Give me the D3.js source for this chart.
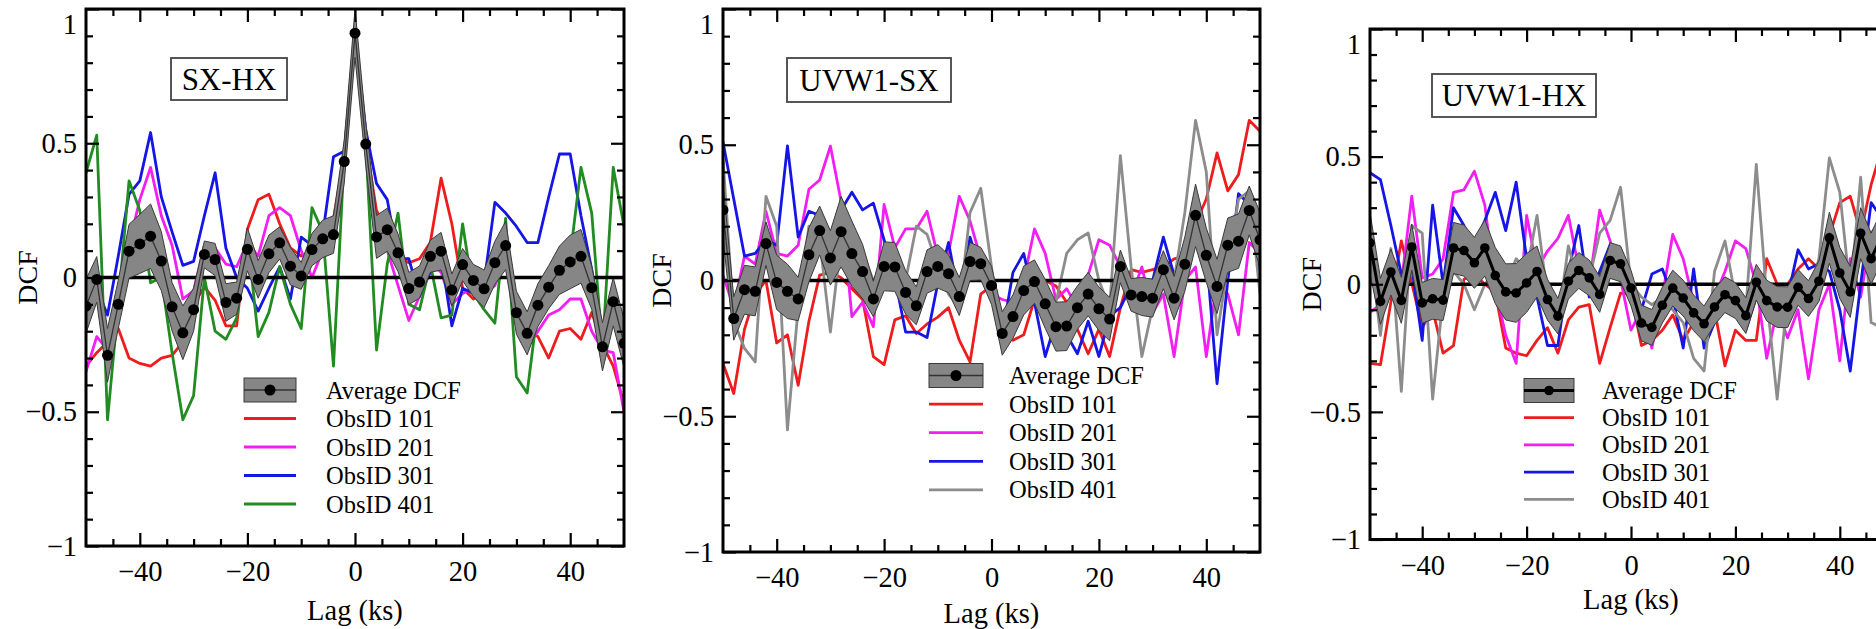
<!DOCTYPE html>
<html>
<head>
<meta charset="utf-8">
<script src="https://cdn.jsdelivr.net/npm/d3@7/dist/d3.min.js"></script>
<style>
  html, body { margin: 0; padding: 0; background: #fff; }
  svg { display: block; }
  svg text { font-family: "Liberation Serif", "DejaVu Serif", "Times New Roman", serif !important; fill: #000; }
</style>
</head>
<body>
<div id="chart"></div>
<script>
// lag grid (ks)
const lags = [-50,-48,-46,-44,-42,-40,-38,-36,-34,-32,-30,-28,-26,-24,-22,-20,-18,-16,-14,-12,-10,-8,-6,-4,-2,
  0,2,4,6,8,10,12,14,16,18,20,22,24,26,28,30,32,34,36,38,40,42,44,46,48,50];

const xMajor = [-40, -20, 0, 20, 40];
const xMinor = [-45,-35,-30,-25,-15,-10,-5,5,10,15,25,30,35,45];
const yMajor = [-1, -0.5, 0, 0.5, 1];
const yMinor = [-0.9,-0.8,-0.7,-0.6,-0.4,-0.3,-0.2,-0.1,0.1,0.2,0.3,0.4,0.6,0.7,0.8,0.9];

const legendNames = ["Average DCF", "ObsID 101", "ObsID 201", "ObsID 301", "ObsID 401"];

// ---- SX-HX ----
const sxhxAvg = [-0.107,-0.007,-0.29,-0.10,0.098,0.125,0.154,0.061,-0.109,-0.206,-0.12,0.086,0.067,-0.093,-0.077,0.105,-0.007,0.088,0.129,0.042,0.006,0.104,0.144,0.16,0.432,
  0.91,0.497,0.151,0.178,0.092,-0.041,-0.017,0.079,0.098,-0.047,0.048,-0.011,-0.042,0.055,0.119,-0.131,-0.208,-0.103,-0.036,0.027,0.058,0.079,-0.038,-0.258,-0.09,-0.245];
const sxhxErr = [0.1,0.085,0.1,0.09,0.1,0.11,0.12,0.11,0.09,0.1,0.08,0.05,0.06,0.07,0.06,0.08,0.07,0.07,0.06,0.07,0.05,0.06,0.07,0.07,0.08,
  0.09,0.08,0.08,0.08,0.07,0.06,0.06,0.06,0.07,0.06,0.06,0.06,0.07,0.08,0.09,0.08,0.08,0.08,0.08,0.09,0.1,0.1,0.08,0.09,0.09,0.09];
const sxhx101 = [-0.33,-0.28,-0.24,-0.19,-0.30,-0.32,-0.33,-0.30,-0.29,-0.24,-0.10,-0.035,-0.085,-0.18,-0.18,0.18,0.29,0.31,0.20,0.11,0.08,0.10,0.15,0.22,0.45,
  0.9,0.5,0.25,0.17,0.08,0.055,0.07,0.13,0.37,0.2,-0.04,-0.08,-0.06,0.02,0.05,-0.1,-0.2,-0.22,-0.3,-0.2,-0.19,-0.23,-0.13,-0.25,-0.33,-0.47];
const sxhx201 = [-0.35,-0.22,-0.27,-0.08,0.12,0.29,0.41,0.23,0.12,-0.08,-0.05,0.12,0.11,0.05,0.04,0.13,0.08,0.23,0.26,0.23,0.1,0.0,0.1,0.2,0.45,
  0.9,0.5,0.2,0.1,-0.03,-0.16,-0.07,0.05,0.02,-0.1,-0.06,-0.04,-0.06,-0.03,0.08,-0.14,-0.26,-0.2,-0.14,-0.12,-0.08,-0.08,-0.2,-0.27,-0.28,-0.5];
const sxhx301 = [0.0,-0.04,-0.14,0.08,0.31,0.36,0.54,0.30,0.17,0.045,0.06,0.23,0.39,0.11,0.0,-0.04,-0.125,-0.04,0.04,-0.08,0.15,0.12,0.16,0.45,0.47,
  0.9,0.55,0.35,0.29,0.07,0.07,-0.07,0.02,0.08,-0.18,-0.04,-0.06,-0.02,0.28,0.24,0.19,0.13,0.13,0.3,0.46,0.46,0.23,0.03,-0.22,-0.1,-0.2];
const sxhx401 = [0.39,0.53,-0.53,-0.1,0.36,0.25,-0.02,0.0,-0.28,-0.53,-0.44,0.0,-0.2,-0.23,-0.15,0.15,-0.22,-0.13,0.04,-0.1,-0.19,0.26,0.17,-0.33,0.45,
  0.93,0.5,-0.27,0.05,0.24,-0.1,-0.12,0.05,-0.15,-0.14,0.2,-0.06,-0.12,-0.17,0.22,-0.37,-0.43,-0.11,-0.05,0.0,0.08,0.41,0.24,-0.27,0.41,0.19];

// ---- UVW1-SX ----
const uvsxAvg = [0.26,-0.14,-0.034,-0.04,0.136,-0.007,-0.04,-0.068,0.095,0.184,0.083,0.18,0.099,0.033,-0.068,0.052,0.05,-0.044,-0.093,0.033,0.052,0.025,-0.059,0.07,0.062,
  -0.018,-0.195,-0.133,-0.037,-0.004,-0.086,-0.17,-0.168,-0.10,-0.05,-0.104,-0.142,0.052,-0.053,-0.059,-0.065,0.04,-0.065,0.06,0.24,0.093,-0.022,0.13,0.145,0.258,0.15];
const uvsxErr = [0.1,0.08,0.09,0.09,0.08,0.1,0.1,0.08,0.1,0.09,0.1,0.13,0.12,0.1,0.065,0.09,0.09,0.08,0.07,0.08,0.08,0.07,0.07,0.07,0.06,
  0.07,0.08,0.08,0.09,0.08,0.09,0.09,0.09,0.08,0.08,0.08,0.08,0.06,0.06,0.07,0.07,0.07,0.08,0.1,0.115,0.1,0.1,0.1,0.1,0.09,0.1];
const uvsx101 = [-0.306,-0.416,-0.18,-0.05,0.0,-0.23,-0.2,-0.386,-0.15,0.02,0.03,0.01,-0.03,-0.07,-0.28,-0.31,-0.145,-0.13,-0.195,-0.16,-0.135,-0.1,-0.22,-0.3,-0.05,
  -0.02,-0.2,-0.22,-0.2,-0.07,0.0,-0.02,-0.08,-0.18,-0.27,-0.18,-0.28,-0.1,0.04,0.03,0.04,0.05,0.08,0.09,0.21,0.3,0.47,0.33,0.39,0.59,0.55];
const uvsx201 = [0.02,-0.1,0.09,0.06,0.255,0.1,0.09,0.13,0.336,0.37,0.495,0.29,-0.133,-0.08,-0.17,0.28,0.12,0.19,0.19,0.255,0.09,0.1,0.31,0.22,0.08,
  -0.05,-0.07,-0.08,0.0,0.19,0.1,-0.07,-0.03,-0.1,0.02,0.15,0.13,0.05,-0.06,0.05,-0.12,-0.05,-0.28,0.0,0.05,-0.28,0.0,-0.05,-0.2,0.14,0.1];
const uvsx301 = [0.51,0.3,0.09,0.1,0.15,0.13,0.496,0.16,0.255,0.24,0.16,0.26,0.325,0.26,0.285,0.15,0.01,-0.19,-0.19,-0.21,-0.01,0.14,-0.07,0.16,0.03,
  -0.03,-0.2,0.03,0.1,-0.08,-0.28,-0.15,-0.2,-0.27,-0.15,-0.28,-0.13,-0.1,-0.02,-0.05,0.0,0.16,0.02,0.05,0.15,0.1,-0.38,0.0,0.32,0.28,0.03];
const uvsx401 = [0.45,-0.15,-0.25,-0.3,0.31,0.2,-0.55,-0.1,0.2,0.15,-0.19,0.15,0.05,0.1,0.0,0.05,0.12,0.0,0.2,0.17,0.05,-0.05,-0.1,0.25,0.34,
  0.05,-0.25,-0.2,-0.08,-0.05,-0.15,-0.08,0.1,0.15,0.175,0.0,-0.1,0.46,0.05,-0.28,-0.1,0.05,0.0,0.25,0.59,0.4,-0.2,0.05,0.3,0.33,-0.05];

// ---- UVW1-HX ----
const uvhxAvg = [0.162,-0.067,0.048,-0.063,0.146,-0.073,-0.057,-0.062,0.142,0.132,0.084,0.142,0.034,-0.03,-0.034,0.005,0.05,-0.06,-0.125,0.012,0.054,0.025,-0.04,0.093,0.08,
  -0.015,-0.152,-0.169,-0.082,-0.015,-0.054,-0.112,-0.155,-0.089,-0.041,-0.064,-0.123,0.008,-0.064,-0.089,-0.09,-0.012,-0.056,0.012,0.182,0.044,-0.03,0.2,0.1,0.188,0.12];
const uvhxErr = [0.12,0.09,0.09,0.09,0.09,0.08,0.08,0.08,0.1,0.1,0.1,0.11,0.11,0.11,0.115,0.115,0.1,0.08,0.07,0.07,0.07,0.07,0.07,0.07,0.07,
  0.07,0.07,0.07,0.07,0.07,0.07,0.07,0.07,0.07,0.07,0.07,0.07,0.07,0.08,0.08,0.08,0.07,0.07,0.08,0.1,0.1,0.1,0.1,0.1,0.1,0.1];
const uvhx101 = [-0.31,-0.315,-0.07,0.17,0.005,-0.17,-0.1,-0.27,-0.24,0.02,0.04,0.0,-0.03,-0.25,-0.27,-0.28,-0.22,-0.17,-0.27,-0.14,-0.09,-0.08,-0.31,-0.17,-0.035,
  -0.04,-0.24,-0.22,-0.18,-0.12,-0.22,-0.15,-0.18,-0.1,-0.32,-0.18,-0.22,-0.22,0.1,0.0,0.0,0.06,0.1,0.06,0.19,0.32,0.345,0.2,0.39,0.53,0.42];
const uvhx201 = [-0.11,-0.08,0.05,0.0,0.345,0.025,0.04,0.1,0.36,0.37,0.443,0.31,-0.015,-0.2,-0.31,0.27,0.06,0.13,0.18,0.27,0.06,0.0,0.29,0.17,0.02,
  -0.18,-0.1,-0.25,-0.05,0.195,0.1,-0.07,-0.15,-0.05,0.05,0.17,0.14,0.0,-0.29,-0.1,-0.21,-0.1,-0.37,-0.1,0.0,-0.3,0.1,-0.05,0.2,0.25,0.17];
const uvhx301 = [0.437,0.41,0.23,0.04,0.065,-0.22,0.31,0.0,0.3,0.23,0.15,0.25,0.36,0.21,0.40,0.1,-0.05,-0.24,-0.24,0.05,0.23,-0.05,0.05,0.155,0.1,
  -0.02,-0.1,0.04,0.06,-0.05,-0.25,0.06,-0.25,-0.15,-0.1,-0.1,-0.18,-0.05,-0.1,-0.05,-0.05,0.135,0.06,0.08,0.05,-0.1,-0.34,0.0,0.32,0.26,0.15];
const uvhx401 = [0.15,-0.2,0.14,-0.42,0.23,0.2,-0.45,-0.05,0.05,0.0,-0.1,0.0,0.05,0.0,0.1,0.05,0.27,-0.05,-0.15,0.15,0.0,0.02,0.2,0.25,0.38,
  0.0,-0.05,-0.08,-0.05,-0.1,-0.15,-0.29,-0.34,0.05,0.17,-0.05,-0.1,0.47,-0.05,-0.45,-0.05,0.05,-0.05,0.1,0.495,0.36,-0.03,0.42,-0.15,-0.17,-0.2];

const red = "#ee1c1c", magenta = "#f21ef2", blue = "#1515e6", green = "#228b22", grey = "#8c8c8c";
const serif = '"Liberation Serif", "DejaVu Serif", "Times New Roman", serif';

const panels = [
  { title: "SX-HX", left: 86, right: 624, top: 9, bottom: 546,
    avg: sxhxAvg, err: sxhxErr, series: [sxhx101, sxhx201, sxhx301, sxhx401],
    colors: [red, magenta, blue, green], avgWidth: 1.3, avgColor: "#333", dotR: 5.5,
    box: [171, 58, 116, 42], leg: { x: 244, x2: 296, tx: 326, y: 390, dy: 28.5 },
    lagY: 620, dcfX: 27 },
  { title: "UVW1-SX", left: 723, right: 1260, top: 9, bottom: 552,
    avg: uvsxAvg, err: uvsxErr, series: [uvsx101, uvsx201, uvsx301, uvsx401],
    colors: [red, magenta, blue, grey], avgWidth: 1.3, avgColor: "#333", dotR: 5.5,
    box: [787, 58, 164, 44], leg: { x: 929, x2: 983, tx: 1009, y: 375.5, dy: 28.6 },
    lagY: 623, dcfX: 661 },
  { title: "UVW1-HX", left: 1370, right: 1892, top: 29, bottom: 539.5,
    avg: uvhxAvg, err: uvhxErr, series: [uvhx101, uvhx201, uvhx301, uvhx401],
    colors: [red, magenta, blue, grey], avgWidth: 3, avgColor: "#000", dotR: 4.8,
    box: [1432, 74, 164, 43], leg: { x: 1524, x2: 1574, tx: 1602, y: 390.5, dy: 27.2 },
    lagY: 609, dcfX: 1311 }
];

const W = 1876, H = 629;
const svg = d3.select("#chart").append("svg").attr("width", W).attr("height", H)
  .style("font-family", serif);
svg.append("rect").attr("width", W).attr("height", H).attr("fill", "#fff");

const fmt = d => (d < 0 ? "\u2212" : "") + Math.abs(d);

panels.forEach((p, pi) => {
  const x = d3.scaleLinear().domain([-50, 50]).range([p.left, p.right]);
  const y = d3.scaleLinear().domain([-1, 1]).range([p.bottom, p.top]);
  const g = svg.append("g");

  const clipId = "clip" + pi;
  g.append("clipPath").attr("id", clipId).append("rect")
    .attr("x", p.left).attr("y", p.top)
    .attr("width", p.right - p.left).attr("height", p.bottom - p.top);

  const plot = g.append("g").attr("clip-path", `url(#${clipId})`);

  // individual observations
  p.series.forEach((s, si) => {
    plot.append("path")
      .datum(lags.map((l, i) => [l, s[i]]))
      .attr("fill", "none")
      .attr("stroke", p.colors[si])
      .attr("stroke-width", 2.8)
      .attr("stroke-linejoin", "round")
      .attr("d", d3.line().x(d => x(d[0])).y(d => y(d[1])));
  });

  // zero line
  plot.append("line")
    .attr("x1", p.left).attr("x2", p.right)
    .attr("y1", y(0)).attr("y2", y(0))
    .attr("stroke", "#000").attr("stroke-width", 3.5);

  // error band
  plot.append("path")
    .datum(lags.map((l, i) => ({ l, m: p.avg[i], e: p.err[i] })))
    .attr("fill", "#868686")
    .attr("stroke", "#3a3a3a")
    .attr("stroke-width", 1)
    .attr("d", d3.area().x(d => x(d.l)).y0(d => y(d.m - d.e)).y1(d => y(d.m + d.e)));

  // average
  plot.append("path")
    .datum(lags.map((l, i) => [l, p.avg[i]]))
    .attr("fill", "none")
    .attr("stroke", p.avgColor)
    .attr("stroke-width", p.avgWidth)
    .attr("d", d3.line().x(d => x(d[0])).y(d => y(d[1])));

  plot.selectAll("circle.avg")
    .data(lags.map((l, i) => [l, p.avg[i]]))
    .join("circle")
    .attr("class", "avg")
    .attr("cx", d => x(d[0])).attr("cy", d => y(d[1]))
    .attr("r", p.dotR).attr("fill", "#000");

  // axes: ticks inward on all four sides
  const tickStyle = sel => {
    sel.attr("font-family", null).attr("font-size", null);
    sel.select(".domain").remove();
    sel.selectAll(".tick line").attr("stroke", "#000").attr("stroke-width", 2.2);
    sel.selectAll(".tick text").style("font-size", "28.5px").style("font-family", serif).attr("fill", "#000");
  };

  g.append("g").attr("transform", `translate(0,${p.bottom})`)
    .call(d3.axisBottom(x).tickValues(xMajor).tickSize(-13).tickPadding(15).tickFormat(fmt)).call(tickStyle);
  g.append("g").attr("transform", `translate(0,${p.bottom})`)
    .call(d3.axisBottom(x).tickValues(xMinor).tickSize(-7).tickFormat("")).call(tickStyle);
  g.append("g").attr("transform", `translate(0,${p.top})`)
    .call(d3.axisTop(x).tickValues(xMajor).tickSize(-13).tickFormat("")).call(tickStyle);
  g.append("g").attr("transform", `translate(0,${p.top})`)
    .call(d3.axisTop(x).tickValues(xMinor).tickSize(-7).tickFormat("")).call(tickStyle);

  const yl = g.append("g").attr("transform", `translate(${p.left},0)`)
    .call(d3.axisLeft(y).tickValues(yMajor).tickSize(-13).tickPadding(9).tickFormat(fmt)).call(tickStyle);
  yl.selectAll(".tick").filter(d => d === 1).select("text").attr("transform", "translate(0,15)");
  g.append("g").attr("transform", `translate(${p.left},0)`)
    .call(d3.axisLeft(y).tickValues(yMinor).tickSize(-7).tickFormat("")).call(tickStyle);
  g.append("g").attr("transform", `translate(${p.right},0)`)
    .call(d3.axisRight(y).tickValues(yMajor).tickSize(-13).tickFormat("")).call(tickStyle);
  g.append("g").attr("transform", `translate(${p.right},0)`)
    .call(d3.axisRight(y).tickValues(yMinor).tickSize(-7).tickFormat("")).call(tickStyle);

  // frame
  g.append("rect")
    .attr("x", p.left).attr("y", p.top)
    .attr("width", p.right - p.left).attr("height", p.bottom - p.top)
    .attr("fill", "none").attr("stroke", "#000").attr("stroke-width", 3);

  // axis titles
  g.append("text")
    .attr("x", x(0)).attr("y", p.lagY)
    .attr("text-anchor", "middle").style("font-size", "28.5px")
    .text("Lag (ks)");
  g.append("text")
    .attr("transform", `translate(${p.dcfX},${(p.top + p.bottom) / 2}) rotate(-90)`)
    .attr("text-anchor", "middle").attr("dominant-baseline", "central")
    .style("font-size", "28px")
    .text("DCF");

  // title box
  const [bx, by, bw, bh] = p.box;
  g.append("rect").attr("x", bx).attr("y", by).attr("width", bw).attr("height", bh)
    .attr("fill", "#fff").attr("stroke", "#444").attr("stroke-width", 1.8);
  g.append("text")
    .attr("x", bx + bw / 2).attr("y", by + bh / 2)
    .attr("text-anchor", "middle").attr("dominant-baseline", "central")
    .style("font-size", "31px")
    .text(p.title);

  // legend
  const L = p.leg;
  const lg = g.append("g");
  legendNames.forEach((name, i) => {
    const cy = L.y + i * L.dy;
    if (i === 0) {
      lg.append("rect").attr("x", L.x).attr("y", cy - 12).attr("width", L.x2 - L.x).attr("height", 24)
        .attr("fill", "#868686").attr("stroke", "#3a3a3a").attr("stroke-width", 1);
      lg.append("line").attr("x1", L.x).attr("x2", L.x2).attr("y1", cy).attr("y2", cy)
        .attr("stroke", p.avgColor).attr("stroke-width", p.avgWidth);
      lg.append("circle").attr("cx", (L.x + L.x2) / 2).attr("cy", cy).attr("r", p.dotR).attr("fill", "#000");
    } else {
      lg.append("line").attr("x1", L.x).attr("x2", L.x2).attr("y1", cy).attr("y2", cy)
        .attr("stroke", p.colors[i - 1]).attr("stroke-width", 2.8);
    }
    lg.append("text").attr("x", L.tx).attr("y", cy)
      .attr("dominant-baseline", "central").style("font-size", "24.5px")
      .text(name);
  });
});
</script>
</body>
</html>
